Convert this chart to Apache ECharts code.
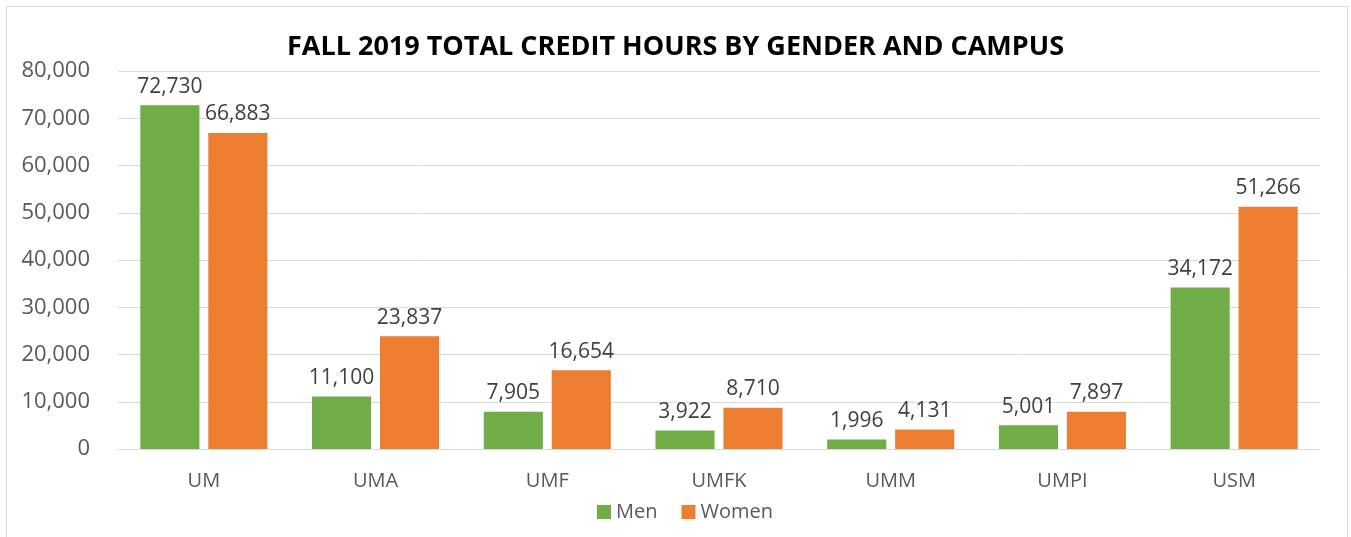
<!DOCTYPE html>
<html>
<head>
<meta charset="utf-8">
<script src="https://cdn.jsdelivr.net/npm/echarts@6/dist/echarts.min.js"></script>
<style>
  html, body { margin: 0; padding: 0; background: #fff; }
  #show_picture { width: 1351px; height: 537px; }
</style>
</head>
<body>
<div id="show_picture"></div>
<script>
    const campuses = ['UM', 'UMA', 'UMF', 'UMFK', 'UMM', 'UMPI', 'USM'];
    const men = [72730, 11100, 7905, 3922, 1996, 5001, 34172];
    const women = [66883, 23837, 16654, 8710, 4131, 7897, 51266];

    let myChart = echarts.init(document.getElementById('show_picture'));
    const font = '"Open Sans", sans-serif';
    const fmt = v => v.toLocaleString('en-US');

    let labelStyle = {
        show: true,
        position: 'top',
        distance: 8,
        color: '#404040',
        fontFamily: font,
        fontSize: 21,
        formatter: p => fmt(p.value)
    };

    let option = {
        animation: false,
        graphic: [{
            type: 'rect',
            shape: { x: 6.5, y: 6.5, width: 1341, height: 540 },
            style: { fill: 'none', stroke: '#d9d9d9', lineWidth: 1 }
        }],
        title: {
            text: 'FALL 2019 TOTAL CREDIT HOURS BY GENDER AND CAMPUS',
            left: 'center',
            top: 29,
            textStyle: {
                color: '#000',
                fontFamily: font,
                fontWeight: 'bold',
                fontSize: 27
            }
        },
        legend: {
            bottom: 10,
            left: 592,
            itemWidth: 14,
            itemHeight: 14,
            itemGap: 24,
            icon: 'rect',
            textStyle: { color: '#595959', fontFamily: font, fontSize: 20 },
            data: ['Men', 'Women']
        },
        grid: { left: 118, right: 31, top: 71, bottom: 88 },
        xAxis: {
            type: 'category',
            data: campuses,
            axisTick: { show: false },
            axisLine: { lineStyle: { color: '#d9d9d9' } },
            axisLabel: { color: '#595959', fontFamily: font, fontSize: 20, margin: 22 }
        },
        yAxis: {
            type: 'value',
            min: 0,
            max: 80000,
            interval: 10000,
            axisLine: { show: false },
            axisTick: { show: false },
            splitLine: { lineStyle: { color: '#d9d9d9' } },
            axisLabel: { color: '#595959', fontFamily: font, fontSize: 22, margin: 28, formatter: v => fmt(v) }
        },
        series: [
            {
                name: 'Men',
                type: 'bar',
                data: men,
                barGap: '15%',
                barCategoryGap: '26%',
                itemStyle: { color: '#70AD47' },
                label: labelStyle
            },
            {
                name: 'Women',
                type: 'bar',
                data: women,
                itemStyle: { color: '#ED7D31' },
                label: labelStyle
            }
        ]
    };

    option && myChart.setOption(option);
</script>
</body>
</html>
